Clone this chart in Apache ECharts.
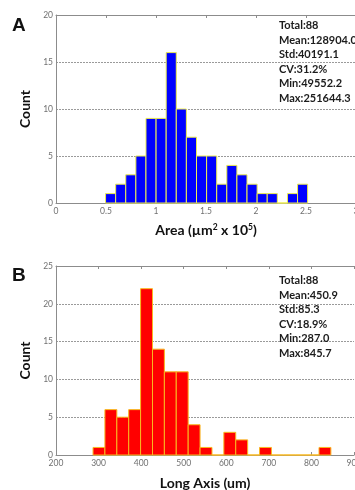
<!DOCTYPE html>
<html>
<head>
<meta charset="utf-8">
<script src="https://cdn.jsdelivr.net/npm/echarts@6/dist/echarts.min.js"></script>
<style>
  html, body { margin: 0; padding: 0; background: #fff; }
  #chart { width: 355px; height: 490px; }
</style>
</head>
<body>
<div id="chart"></div>
<script>
// panel A: area histogram (x 10^5 um^2)
var areaEdges = [0.4955, 0.5966, 0.6976, 0.7987, 0.8997, 1.0008, 1.1018, 1.2029, 1.3039, 1.4050,
  1.5060, 1.6071, 1.7081, 1.8092, 1.9102, 2.0113, 2.1123, 2.2134, 2.3144, 2.4155, 2.5164];
var areaCounts = [1, 2, 3, 5, 9, 9, 16, 10, 7, 5, 5, 2, 4, 3, 2, 1, 1, 0, 1, 2];
var areaStats = ['Total:88', 'Mean:128904.0', 'Std:40191.1', 'CV:31.2%', 'Min:49552.2', 'Max:251644.3'];

// panel B: long axis histogram (um)
var axisEdges = [287.0, 314.9, 342.9, 370.8, 398.7, 426.7, 454.6, 482.5, 510.5, 538.4,
  566.4, 594.3, 622.2, 650.2, 678.1, 706.0, 734.0, 761.9, 789.8, 817.8, 845.7];
var axisCounts = [1, 6, 5, 6, 22, 14, 11, 11, 4, 1, 0, 3, 2, 0, 1, 0, 0, 0, 0, 1];
var axisStats = ['Total:88', 'Mean:450.9', 'Std:85.3', 'CV:18.9%', 'Min:287.0', 'Max:845.7'];

function binRows(edges, counts) {
  var rows = [];
  for (var i = 0; i < counts.length; i++) {
    rows.push([edges[i], edges[i + 1], counts[i]]);
  }
  return rows;
}

function histItem(fill, edge) {
  return function (params, api) {
    var p0 = api.coord([api.value(0), api.value(2)]);
    var p1 = api.coord([api.value(1), 0]);
    return {
      type: 'rect',
      shape: { x: p0[0], y: p0[1], width: p1[0] - p0[0], height: p1[1] - p0[1] },
      style: { fill: fill, stroke: edge, lineWidth: 1 }
    };
  };
}

var gray = '#8c8c8c';
var ink = '#111';
var tickFont = { color: '#707070', fontSize: 8.5, fontFamily: 'Lato' };

function nameFont() {
  return {
    color: ink, fontSize: 14, fontWeight: 'bold', fontFamily: 'Lato',
    rich: {
      n: { color: ink, fontSize: 14, fontWeight: 'bold', fontFamily: 'Lato' },
      s: { color: ink, fontSize: 8.5, fontWeight: 'bold', fontFamily: 'Lato', verticalAlign: 'top', padding: [0, 0, 6, 0] }
    }
  };
}

function bottomAxis(grid, min, max, step, name, gap) {
  return {
    type: 'value', gridIndex: grid, position: 'bottom', min: min, max: max, interval: step,
    name: name, nameLocation: 'middle', nameGap: gap, nameTextStyle: nameFont(),
    axisLine: { lineStyle: { color: gray } },
    axisTick: { inside: true, length: 3, lineStyle: { color: gray } },
    axisLabel: Object.assign({ margin: 4, showMaxLabel: true }, tickFont),
    splitLine: { show: false }
  };
}

function topAxis(grid, min, max, step) {
  return {
    type: 'value', gridIndex: grid, position: 'top', min: min, max: max, interval: step,
    axisLine: { lineStyle: { color: gray } },
    axisTick: { inside: true, length: 3, lineStyle: { color: gray } },
    axisLabel: { show: false },
    splitLine: { show: false }
  };
}

function leftAxis(grid, max, step) {
  return {
    type: 'value', gridIndex: grid, min: 0, max: max, interval: step,
    name: 'Count', nameLocation: 'middle', nameGap: 16, nameTextStyle: nameFont(),
    axisLine: { show: true, lineStyle: { color: gray } },
    axisTick: { show: false },
    axisLabel: Object.assign({ margin: 3 }, tickFont),
    splitLine: { show: true, lineStyle: { color: '#9a9a9a', type: [2, 1], width: 1 } }
  };
}

function statsText(lines, top) {
  return {
    type: 'text', left: 279, top: top, z: 10,
    style: {
      text: lines.join('\n'), lineHeight: 14.5,
      fontSize: 11, fontWeight: 'bold', fontFamily: 'Lato', fill: '#1c1c1c'
    }
  };
}

function panelLetter(ch, top) {
  return {
    type: 'text', left: 12, top: top,
    style: { text: ch, fontSize: 19, fontWeight: 'bold', fontFamily: 'Liberation Sans', fill: '#111' }
  };
}

var chart = echarts.init(document.getElementById('chart'), null, { renderer: 'canvas' });

chart.setOption({
  backgroundColor: '#fff',
  animation: false,
  grid: [
    { left: 56, top: 15, width: 300, height: 188, outerBoundsMode: 'none' },
    { left: 56, top: 266, width: 298, height: 189, outerBoundsMode: 'none' }
  ],
  xAxis: [
    bottomAxis(0, 0, 3, 0.5, '{n|Area (µm}{s|2}{n| x 10}{s|5}{n|)}', 20),
    topAxis(0, 0, 3, 0.5),
    bottomAxis(1, 200, 900, 100, 'Long Axis (um)', 21),
    topAxis(1, 200, 900, 100)
  ],
  yAxis: [
    leftAxis(0, 20, 5),
    leftAxis(1, 25, 5)
  ],
  series: [
    {
      type: 'custom', xAxisIndex: 0, yAxisIndex: 0,
      renderItem: histItem('#0000ff', '#ecec50'),
      encode: { x: [0, 1], y: 2 },
      data: binRows(areaEdges, areaCounts)
    },
    {
      type: 'custom', xAxisIndex: 2, yAxisIndex: 1,
      renderItem: histItem('#ff0000', '#f8b820'),
      encode: { x: [0, 1], y: 2 },
      data: binRows(axisEdges, axisCounts)
    }
  ],
  graphic: [
    panelLetter('A', 16),
    panelLetter('B', 266),
    statsText(areaStats, 18.5),
    statsText(axisStats, 273.5)
  ]
});
</script>
</body>
</html>
